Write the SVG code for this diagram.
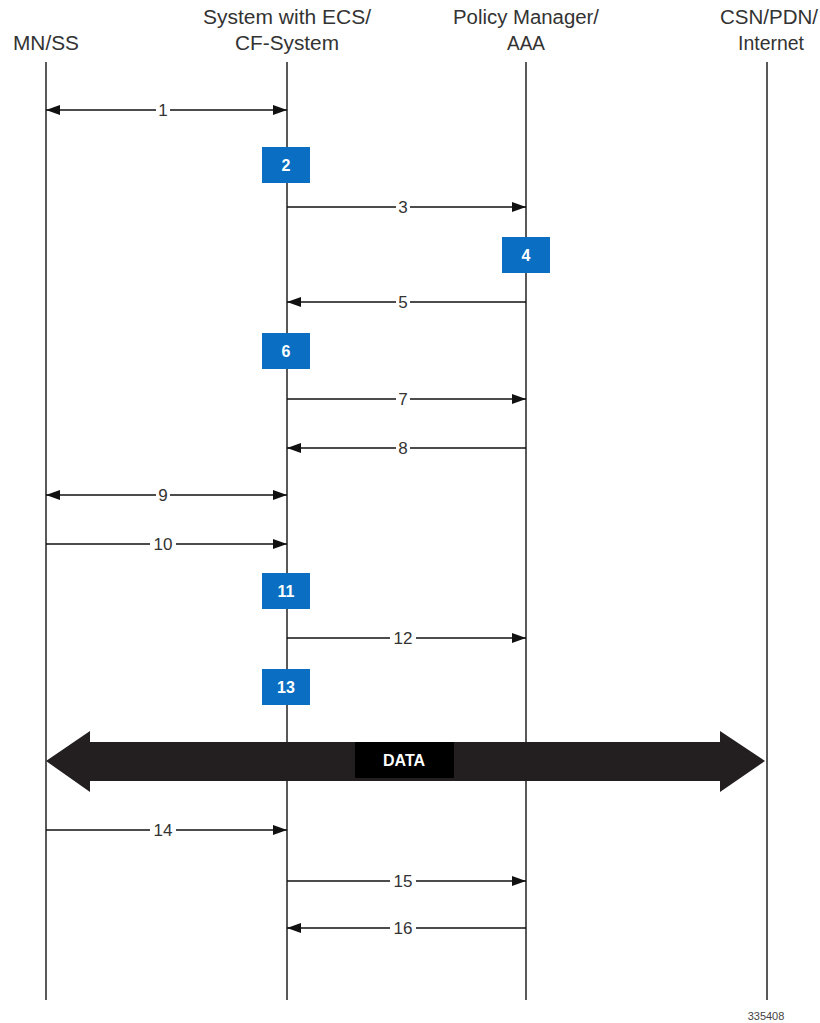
<svg xmlns="http://www.w3.org/2000/svg" width="820" height="1023" viewBox="0 0 820 1023">
<style>
.hdr{font-family:"Liberation Sans",Arial,sans-serif;font-size:20px;fill:#333;text-anchor:middle}
.lbl{font-family:"Liberation Sans",Arial,sans-serif;font-size:17px;fill:#333;text-anchor:middle}
.life{stroke:#222;stroke-width:1.5;fill:none}
.msg{stroke:#111;stroke-width:1.5;fill:none}
.gap{fill:#fff}
.box{fill:#0a6fc2}
.boxt{font-family:"Liberation Sans",Arial,sans-serif;font-size:16px;font-weight:bold;fill:#fff;text-anchor:middle}
</style>
<defs>
<marker id="ah" viewBox="0 0 14 10" refX="14" refY="5" markerWidth="14" markerHeight="10" markerUnits="userSpaceOnUse" orient="auto-start-reverse">
<path d="M0,0 L14,5 L0,10 Z" fill="#111"/>
</marker>
</defs>
<rect width="820" height="1023" fill="#fff"/>
<g id="mnss"><text class="hdr" x="46" y="50" textLength="66" lengthAdjust="spacingAndGlyphs">MN/SS</text><line class="life" x1="46" y1="62" x2="46" y2="1000"/></g>
<g id="ecs"><text class="hdr" x="287" y="24" textLength="168" lengthAdjust="spacingAndGlyphs">System with ECS/</text><text class="hdr" x="287" y="50" textLength="104" lengthAdjust="spacingAndGlyphs">CF-System</text><line class="life" x1="287" y1="62" x2="287" y2="1000"/></g>
<g id="pm"><text class="hdr" x="526" y="24" textLength="146" lengthAdjust="spacingAndGlyphs">Policy Manager/</text><text class="hdr" x="526" y="50" textLength="38" lengthAdjust="spacingAndGlyphs">AAA</text><line class="life" x1="526" y1="62" x2="526" y2="1000"/></g>
<g id="csn"><text class="hdr" x="769" y="24" textLength="98" lengthAdjust="spacingAndGlyphs">CSN/PDN/</text><text class="hdr" x="771" y="50" textLength="66" lengthAdjust="spacingAndGlyphs">Internet</text><line class="life" x1="767" y1="62" x2="767" y2="1000"/></g>
<g id="connectors">
<line class="msg" x1="46" y1="110" x2="287" y2="110" marker-start="url(#ah)" marker-end="url(#ah)"/><rect class="gap" x="156" y="100" width="14" height="20"/><text class="lbl" x="163" y="116">1</text>
<line class="msg" x1="287" y1="207" x2="526" y2="207" marker-end="url(#ah)"/><rect class="gap" x="396" y="197" width="14" height="20"/><text class="lbl" x="403" y="213">3</text>
<line class="msg" x1="526" y1="302" x2="287" y2="302" marker-end="url(#ah)"/><rect class="gap" x="396" y="292" width="14" height="20"/><text class="lbl" x="403" y="308">5</text>
<line class="msg" x1="287" y1="399" x2="526" y2="399" marker-end="url(#ah)"/><rect class="gap" x="396" y="389" width="14" height="20"/><text class="lbl" x="403" y="405">7</text>
<line class="msg" x1="526" y1="448" x2="287" y2="448" marker-end="url(#ah)"/><rect class="gap" x="396" y="438" width="14" height="20"/><text class="lbl" x="403" y="454">8</text>
<line class="msg" x1="46" y1="495" x2="287" y2="495" marker-start="url(#ah)" marker-end="url(#ah)"/><rect class="gap" x="156" y="485" width="14" height="20"/><text class="lbl" x="163" y="501">9</text>
<line class="msg" x1="46" y1="544" x2="287" y2="544" marker-end="url(#ah)"/><rect class="gap" x="150" y="534" width="26" height="20"/><text class="lbl" x="163" y="550">10</text>
<line class="msg" x1="287" y1="638" x2="526" y2="638" marker-end="url(#ah)"/><rect class="gap" x="390" y="628" width="26" height="20"/><text class="lbl" x="403" y="644">12</text>
<line class="msg" x1="46" y1="830" x2="287" y2="830" marker-end="url(#ah)"/><rect class="gap" x="150" y="820" width="26" height="20"/><text class="lbl" x="163" y="836">14</text>
<line class="msg" x1="287" y1="881" x2="526" y2="881" marker-end="url(#ah)"/><rect class="gap" x="390" y="871" width="26" height="20"/><text class="lbl" x="403" y="887">15</text>
<line class="msg" x1="526" y1="928" x2="287" y2="928" marker-end="url(#ah)"/><rect class="gap" x="390" y="918" width="26" height="20"/><text class="lbl" x="403" y="934">16</text>
</g>
<g id="step2"><rect class="box" x="262" y="147" width="48" height="36"/><text class="boxt" x="286" y="171">2</text></g>
<g id="step4"><rect class="box" x="502" y="237" width="48" height="36"/><text class="boxt" x="526" y="261">4</text></g>
<g id="step6"><rect class="box" x="262" y="333" width="48" height="36"/><text class="boxt" x="286" y="357">6</text></g>
<g id="step11"><rect class="box" x="262" y="573" width="48" height="36"/><text class="boxt" x="286" y="597">11</text></g>
<g id="step13"><rect class="box" x="262" y="669" width="48" height="36"/><text class="boxt" x="286" y="693">13</text></g>
<g id="data">
<path d="M46,761 L90,731 L90,742 L720,742 L720,731 L765,761 L720,792 L720,781 L90,781 L90,792 Z" fill="#231f20"/>
<rect x="355" y="742" width="99" height="36" fill="#000"/>
<text x="404" y="766" font-family="Liberation Sans,Arial,sans-serif" font-size="16" font-weight="bold" fill="#fff" text-anchor="middle">DATA</text>
</g>
<text x="766" y="1020" font-family="Liberation Sans,Arial,sans-serif" font-size="11" fill="#444" text-anchor="middle">335408</text>
</svg>
